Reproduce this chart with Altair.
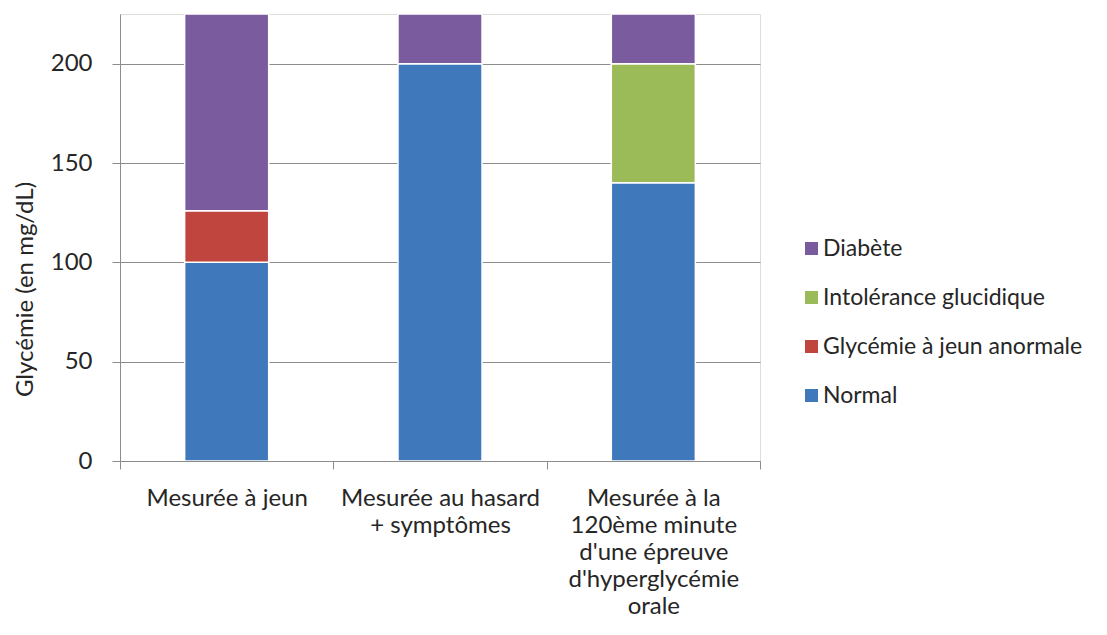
import altair as alt
import pandas as pd

categories = [
    "Mesurée à jeun",
    "Mesurée au hasard|+ symptômes",
    "Mesurée à la|120ème minute|d'une épreuve|d'hyperglycémie|orale",
]
series = ["Diabète", "Intolérance glucidique", "Glycémie à jeun anormale", "Normal"]
colors = ["#7A5B9E", "#9BBB59", "#C0453F", "#3F79BB"]

# segment bounds per category (mg/dL)
normal_low = [0, 0, 0]
normal_high = [100, 200, 140]
anormale_low = [100, None, None]
anormale_high = [126, None, None]
intolerance_low = [None, None, 140]
intolerance_high = [None, None, 200]
diabete_low = [126, 200, 200]
diabete_high = [225, 225, 225]
y_max = 225
y_ticks = [0, 50, 100, 150, 200]

rows = []
for i, c in enumerate(categories):
    for name, lo, hi in [
        ("Normal", normal_low, normal_high),
        ("Glycémie à jeun anormale", anormale_low, anormale_high),
        ("Intolérance glucidique", intolerance_low, intolerance_high),
        ("Diabète", diabete_low, diabete_high),
    ]:
        if lo[i] is not None:
            rows.append({"cat": c, "serie": name, "lo": lo[i], "hi": hi[i]})
df = pd.DataFrame(rows)

FONT = "Lato"
FS = 24
TXT = "#262626"
GRID = "#8C8C8C"

chart = (
    alt.Chart(df)
    .mark_bar(stroke="white", strokeWidth=1.5, clip=True, width={"band": 0.394})
    .encode(
        x=alt.X(
            "cat:N",
            sort=categories,
            scale=alt.Scale(paddingInner=0, paddingOuter=0),
            axis=alt.Axis(
                title=None,
                labelAngle=0,
                labelExpr="split(datum.label, '|')",
                labelFont=FONT,
                labelFontSize=FS,
                labelColor=TXT,
                labelLineHeight=27,
                labelPadding=17,
                labelLimit=300,
                tickBand="extent",
                tickSize=8,
                tickColor=GRID,
                domainColor=GRID,
                grid=False,
            ),
        ),
        y=alt.Y(
            "lo:Q",
            scale=alt.Scale(domain=[0, y_max], nice=False),
            axis=alt.Axis(
                values=y_ticks,
                title="Glycémie (en mg/dL)",
                titleFont=FONT,
                titleFontSize=FS,
                titleFontWeight="normal",
                titleColor=TXT,
                titleAngle=270,
                titleAlign="center",
                titleBaseline="middle",
                titleX=-95,
                titleY=275,
                labelFont=FONT,
                labelFontSize=FS,
                labelColor=TXT,
                labelPadding=20,
                tickSize=8,
                tickColor=GRID,
                domainColor=GRID,
                grid=True,
                gridColor=GRID,
                gridWidth=1.2,
            ),
        ),
        y2="hi:Q",
        color=alt.Color(
            "serie:N",
            scale=alt.Scale(domain=series, range=colors),
            legend=alt.Legend(
                title=None,
                orient="none",
                legendX=680,
                legendY=223,
                symbolType="square",
                symbolSize=169,
                symbolStrokeWidth=0,
                labelFont=FONT,
                labelFontSize=23,
                labelColor=TXT,
                labelLimit=400,
                rowPadding=25,
                labelOffset=0,
                padding=0,
            ),
        ),
    )
    .properties(
        width=640,
        height=447,
        autosize=alt.AutoSizeParams(type="none"),
        padding={"left": 112, "top": 6, "right": 339, "bottom": 160},
    )
    .configure_view(strokeWidth=0, stroke="transparent")
    .configure(background="white")
)

chart.save("out.html", embed_options={"renderer": "svg", "actions": False})
